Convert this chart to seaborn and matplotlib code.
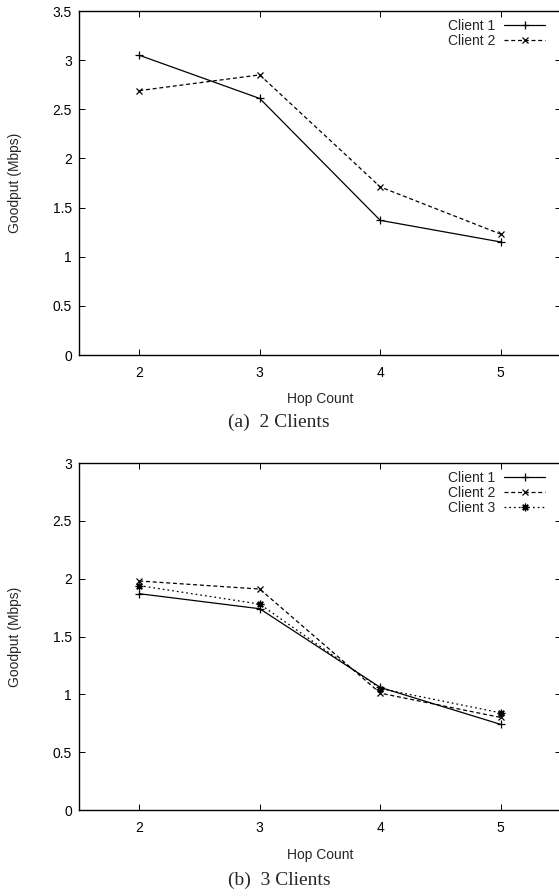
import numpy as np
import pandas as pd
import matplotlib
matplotlib.use("Agg")
import matplotlib.pyplot as plt
import seaborn as sns

# Hop counts on the x axis
hops = [2, 3, 4, 5]

# Goodput (Mbps), 2-client experiment
two_c1 = [3.05, 2.61, 1.37, 1.15]
two_c2 = [2.69, 2.85, 1.71, 1.23]

# Goodput (Mbps), 3-client experiment
three_c1 = [1.87, 1.74, 1.06, 0.74]
three_c2 = [1.98, 1.91, 1.01, 0.80]
three_c3 = [1.94, 1.78, 1.05, 0.84]

y_ticks_top = [0, 0.5, 1, 1.5, 2, 2.5, 3, 3.5]
y_ticks_bot = [0, 0.5, 1, 1.5, 2, 2.5, 3]
captions = ["(a)  2 Clients", "(b)  3 Clients"]

sns.set_style("ticks")
plt.rcParams.update({
    "font.family": ["Liberation Sans", "DejaVu Sans"],
    "font.size": 10,
    "xtick.direction": "in",
    "ytick.direction": "in",
    "xtick.top": True,
    "ytick.right": True,
    "xtick.major.size": 4,
    "ytick.major.size": 4,
    "xtick.major.width": 0.7,
    "ytick.major.width": 0.7,
    "xtick.major.pad": 8,
    "ytick.major.pad": 5,
    "axes.linewidth": 1.0,
    "axes.edgecolor": "black",
    "xtick.color": "black",
    "ytick.color": "black",
})

W, H = 559, 896
fig = plt.figure(figsize=(W / 100, H / 100), dpi=100)

def fig_axes(left_px, top_px, right_px, bottom_px):
    return fig.add_axes([left_px / W, 1 - bottom_px / H,
                         (right_px - left_px) / W, (bottom_px - top_px) / H])

ax1 = fig_axes(79, 11, 561, 355)
ax2 = fig_axes(79, 463, 561, 810)

styles = {
    "Client 1": dict(linestyle="-", marker="+", markersize=5.5),
    "Client 2": dict(linestyle=(0, (3.2, 2.2)), marker="x", markersize=4.5),
    "Client 3": dict(linestyle=(0, (1.4, 2.4)), marker=(8, 2, 0), markersize=5.5),
}

def draw(ax, series, yticks, ymax):
    for name, vals in series:
        df = pd.DataFrame({"Hop Count": hops, "Goodput": vals})
        st = styles[name]
        sns.lineplot(data=df, x="Hop Count", y="Goodput", ax=ax, color="black",
                     linewidth=0.9, linestyle=st["linestyle"], marker=st["marker"],
                     markersize=st["markersize"], markeredgewidth=0.9,
                     markeredgecolor="black", label=name)
    ax.set_xlim(1.5, 5.5)
    ax.set_ylim(0, ymax)
    ax.set_xticks(hops)
    ax.set_xticklabels([str(h) for h in hops])
    ax.set_yticks(yticks)
    ax.set_yticklabels([f"{t:g}" for t in yticks])
    ax.set_xlabel("Hop Count", fontsize=10)
    ax.set_ylabel("Goodput (Mbps)", fontsize=10)
    for s in ax.spines.values():
        s.set_visible(True)
    ax.tick_params(labelsize=10)
    leg = ax.legend(loc="upper right", bbox_to_anchor=(0.985, 1.0), frameon=False,
                    markerfirst=False, handlelength=3.0, handletextpad=0.6,
                    labelspacing=0.05, fontsize=10, borderaxespad=0.2)
    for t in leg.get_texts():
        t.set_ha("right")

draw(ax1, [("Client 1", two_c1), ("Client 2", two_c2)], y_ticks_top, 3.5)
draw(ax2, [("Client 1", three_c1), ("Client 2", three_c2), ("Client 3", three_c3)],
     y_ticks_bot, 3.0)

ax1.yaxis.set_label_coords(-57 / 482, 0.5)
ax1.xaxis.set_label_coords(0.5, -(392 - 355) / 344)
ax2.yaxis.set_label_coords(-57 / 482, 0.5)
ax2.xaxis.set_label_coords(0.5, -(848 - 810) / 347)

fig.text(279 / W, 1 - 422 / H, captions[0], ha="center", va="center",
         fontsize=14, family=["Liberation Serif", "DejaVu Serif"])
fig.text(279 / W, 1 - 880 / H, captions[1], ha="center", va="center",
         fontsize=14, family=["Liberation Serif", "DejaVu Serif"])

fig.savefig("out.png", dpi=100)
